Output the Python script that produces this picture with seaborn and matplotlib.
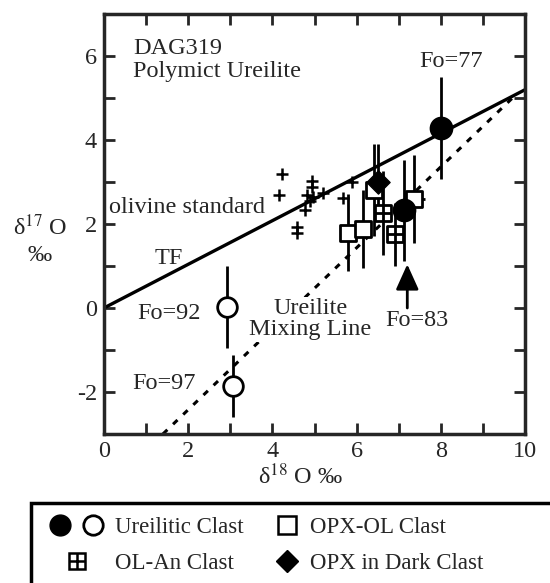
# ==========================================
# DAG319 POLYMICT UREILITE - OXYGEN ISOTOPES
# ==========================================

import numpy as np
import pandas as pd
import matplotlib
matplotlib.use("Agg")
import matplotlib.pyplot as plt
from matplotlib.lines import Line2D
from matplotlib.patches import Rectangle
from matplotlib.legend_handler import HandlerTuple
import seaborn as sns

# ==========================================
# DATA
# ==========================================

# olivine standard (plus signs)
std_d18 = [4.23, 4.16, 4.94, 4.94, 4.82, 4.96, 5.20, 4.77, 4.58, 4.58, 5.89, 5.68, 4.90]
std_d17 = [3.19, 2.69, 3.02, 2.88, 2.69, 2.64, 2.74, 2.33, 1.93, 1.79, 3.00, 2.62, 2.55]

# ureilitic clasts, filled (Fo=77, Fo=83)
fill_d18 = [8.00, 7.13]
fill_d17 = [4.29, 2.33]
fill_err = [1.22, 1.20]

# ureilitic clasts, open (Fo=92, Fo=97)
open_d18 = [2.92, 3.07]
open_d17 = [0.02, -1.86]
open_err = [0.98, 0.73]

# OPX-OL clasts (open squares)
opx_d18 = [5.80, 6.15, 6.41, 7.36]
opx_d17 = [1.79, 1.88, 2.81, 2.60]
opx_err = [0.92, 0.92, 1.10, 1.05]
opx_xerr = [0.20, 0.20, 0.20, 0.25]

# OL-An clasts (crossed squares)
olan_d18 = [6.63, 6.91]
olan_d17 = [2.26, 1.76]
olan_err = [1.00, 0.75]

# OPX in dark clast (diamond)
dark_d18 = [6.50]
dark_d17 = [3.00]
dark_err = [0.90]

# reference lines (end points)
tf_x = [0.0, 10.0]
tf_y = [0.0, 5.2]
mix_x = [1.4, 9.8]
mix_y = [-3.0, 5.1]

# ==========================================
# STYLE
# ==========================================

sns.set_style("ticks")
plt.rcParams["font.family"] = ["Liberation Serif", "DejaVu Serif"]
plt.rcParams["mathtext.fontset"] = "stix"
plt.rcParams["axes.unicode_minus"] = False

fig = plt.figure(figsize=(5.5, 5.83), dpi=100)
ax = fig.add_axes([0.189, 0.2556, 0.766, 0.7204])

# ==========================================
# LINES
# ==========================================

sns.lineplot(x=tf_x, y=tf_y, color="black", lw=2.4, ax=ax)
sns.lineplot(x=mix_x, y=mix_y, color="black", lw=2.2, ax=ax)
ax.lines[-1].set_dashes([2.0, 2.6])

# ==========================================
# ERROR BARS
# ==========================================

eb = dict(fmt="none", ecolor="black", elinewidth=2, capsize=0, zorder=2)
ax.errorbar(fill_d18, fill_d17, yerr=fill_err, **eb)
ax.errorbar(open_d18, open_d17, yerr=open_err, **eb)
ax.errorbar(opx_d18, opx_d17, yerr=opx_err, xerr=opx_xerr, **eb)
ax.errorbar(olan_d18, olan_d17, yerr=olan_err, **eb)
ax.errorbar(dark_d18, dark_d17, yerr=dark_err, **eb)

# ==========================================
# POINTS
# ==========================================

sns.scatterplot(x=std_d18, y=std_d17, marker="+", s=80, color="black",
                linewidth=1.8, ax=ax, zorder=3)
sns.scatterplot(x=opx_d18, y=opx_d17, marker="s", s=145, color="white",
                edgecolor="black", linewidth=2, ax=ax, zorder=4)
sns.scatterplot(x=olan_d18, y=olan_d17, marker="s", s=145, color="white",
                edgecolor="black", linewidth=2, ax=ax, zorder=4)
sns.scatterplot(x=olan_d18, y=olan_d17, marker="+", s=145, color="black",
                linewidth=2, ax=ax, zorder=5)
sns.scatterplot(x=dark_d18, y=dark_d17, marker="D", s=140, color="black",
                edgecolor="black", ax=ax, zorder=5)
sns.scatterplot(x=fill_d18, y=fill_d17, marker="o", s=250, color="black",
                edgecolor="black", ax=ax, zorder=5)
sns.scatterplot(x=open_d18, y=open_d17, marker="o", s=200, color="white",
                edgecolor="black", linewidth=2, ax=ax, zorder=5)

# ==========================================
# ANNOTATIONS
# ==========================================

fs = 17.5
ax.text(0.7, 6.42, "DAG319\nPolymict Ureilite", fontsize=fs, va="top",
        linespacing=1.12)
ax.text(8.25, 5.88, "Fo=77", fontsize=fs, ha="center", va="center")
ax.text(0.13, 2.4, "olivine standard", fontsize=fs, va="center")
ax.text(1.2, 1.18, "TF", fontsize=fs, va="center")
ax.text(2.3, -0.12, "Fo=92", fontsize=fs, ha="right", va="center")
ax.text(2.18, -1.8, "Fo=97", fontsize=fs, ha="right", va="center")
ax.text(4.9, -0.27, "Ureilite\nMixing Line", fontsize=fs, ha="center",
        va="center", linespacing=1.02, zorder=6,
        bbox=dict(facecolor="white", edgecolor="none", pad=1))
ax.text(7.44, -0.3, "Fo=83", fontsize=fs, ha="center", va="center")
ax.annotate("", xy=(7.2, 1.04), xytext=(7.2, 0.0),
            arrowprops=dict(arrowstyle="-|>,head_length=1.55,head_width=0.7",
                            color="black", lw=2, shrinkA=0, shrinkB=0))

# ==========================================
# AXES
# ==========================================

ax.set_xlim(0, 10)
ax.set_ylim(-3, 7)
ax.set_xticks([0, 2, 4, 6, 8, 10])
ax.set_yticks([-2, 0, 2, 4, 6])
ax.set_xticks([1, 3, 5, 7, 9], minor=True)
ax.set_yticks([-3, -1, 1, 3, 5, 7], minor=True)
ax.tick_params(which="both", direction="in", top=True, right=True,
               length=8, width=2, labelsize=fs, pad=5)
for sp in ax.spines.values():
    sp.set_linewidth(2.5)
    sp.set_visible(True)

ax.set_xlabel(r"δ$^{18}$ O ‰", fontsize=fs, labelpad=1)
ax.xaxis.label.set_x(0.466)
ax.text(-0.152, 0.46, "δ$^{17}$ O\n‰", transform=ax.transAxes, fontsize=fs,
        ha="center", va="center", linespacing=1.3)

# ==========================================
# LEGEND
# ==========================================

fig.patches.append(Rectangle((0.056, -0.02), 1.0, 0.157, transform=fig.transFigure,
                             fill=False, edgecolor="black", lw=2.5, clip_on=False))

lfs = 16.5

h_fill = Line2D([], [], marker="o", ls="", color="black", ms=15)
h_open = Line2D([], [], marker="o", ls="", mfc="white", mec="black", mew=2, ms=14)
h_sq = Line2D([], [], marker="s", ls="", mfc="white", mec="black", mew=1.8, ms=12.5)
h_cross = Line2D([], [], marker="s", ls="", mfc="white", mec="black", mew=1.8, ms=11)
h_cross2 = Line2D([], [], marker="+", ls="", color="black", mew=1.8, ms=11)
h_dia = Line2D([], [], marker="D", ls="", color="black", ms=11)

circ_pair = (h_fill, h_open)
cross_pair = (h_cross, h_cross2)

leg_kw = dict(loc="upper left", frameon=False, fontsize=lfs, borderpad=0,
              borderaxespad=0, handletextpad=0.3, labelspacing=0.68)

fig.legend(
    [circ_pair, cross_pair],
    ["Ureilitic Clast", "OL-An Clast"],
    handler_map={circ_pair: HandlerTuple(ndivide=None, pad=0.13),
                 cross_pair: HandlerTuple(ndivide=1)},
    bbox_to_anchor=(0.082, 0.114), handlelength=2.75, **leg_kw,
)
fig.legend(
    [h_sq, h_dia],
    ["OPX-OL Clast", "OPX in Dark Clast"],
    bbox_to_anchor=(0.493, 0.114), handlelength=1.4, **leg_kw,
)

fig.savefig("out.png", dpi=100)
